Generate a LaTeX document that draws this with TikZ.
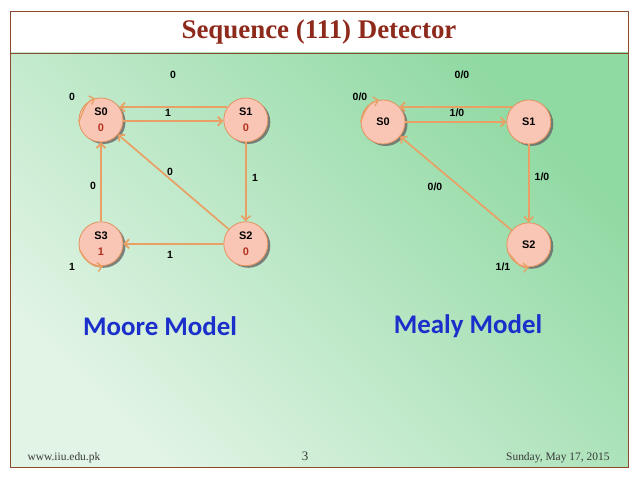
\documentclass[tikz,border=0pt]{standalone}
\usepackage{fontspec}
\setmainfont{Liberation Serif}
\setsansfont{Liberation Sans}
\newfontfamily\carlito{Carlito}
\usetikzlibrary{arrows.meta, positioning, shadows}
\definecolor{slidebrown}{HTML}{8B4A2E}
\definecolor{titlered}{HTML}{8E2A1C}
\definecolor{slidegreen}{HTML}{8FD9A2}
\definecolor{palegreen}{HTML}{E2F4E6}
\definecolor{statefill}{HTML}{F9C6B6}
\definecolor{stateline}{HTML}{E3925E}
\definecolor{edgeorange}{HTML}{E9A064}
\definecolor{outred}{HTML}{B5301E}
\definecolor{modelblue}{HTML}{1B2FCB}
\definecolor{footgray}{HTML}{3A3A3A}

\begin{document}
\begin{tikzpicture}[
    x=1bp, y=1bp,
    node distance=100bp,
    state/.style={circle, draw=stateline, fill=statefill, thick, minimum size=44bp, inner sep=0pt, align=center, font=\sffamily\bfseries\fontsize{11}{16}\selectfont, drop shadow={shadow xshift=2.5bp, shadow yshift=-2bp, fill=black!60, opacity=0.8}},
    edge/.style={-{Straight Barb[length=4.5bp, width=9bp]}, draw=edgeorange, line width=1.7bp},
    selfloop/.style={edge, line width=1.3bp},
    edgelabel/.style={font=\sffamily\bfseries\fontsize{10.5}{12}\selectfont},
    modeltitle/.style={font=\carlito\bfseries\fontsize{27}{32}\selectfont, text=modelblue},
    footer/.style={font=\fontsize{11.5}{13}\selectfont, text=footgray}
]
\useasboundingbox (0,0) rectangle (638,479);
\fill[white] (0,0) rectangle (638,479);
\shade[top color=slidegreen, bottom color=palegreen, shading angle=-45] (10,12) rectangle (628,426);
\draw[slidebrown] (10,12) rectangle (628,468);
\draw[slidebrown] (10,426) -- (628,426);

\node[font=\bfseries\fontsize{27}{32}\selectfont, text=titlered] (title) at (319,447) {Sequence (111) Detector};

% Moore model
\node[state] (ms0) at (101,359) {S0\\ \textcolor{outred}{0}};
\node[state, right=of ms0] (ms1) {S1\\ \textcolor{outred}{0}};
\node[state, below=79bp of ms0] (ms3) {S3\\ \textcolor{outred}{1}};
\node[state, right=of ms3] (ms2) {S2\\ \textcolor{outred}{0}};

\draw[edge] (ms1.145) -- (ms0.35);
\draw[edge] (ms0.-3) -- (ms1.183);
\draw[edge] (ms1) -- (ms2);
\draw[edge] (ms2) -- (ms0);
\draw[edge] (ms2) -- (ms3);
\draw[edge] (ms3) -- (ms0);
\draw[selfloop] (ms0.185) to[out=65,in=200] (ms0.105);
\draw[selfloop] (ms3.195) to[out=-60,in=190] (ms3.-85);

\node[edgelabel] (m10) at (173,404) {0};
\node[edgelabel] (m00) at (72,382) {0};
\node[edgelabel] (m01) at (168,366) {1};
\node[edgelabel] (m12) at (255,301) {1};
\node[edgelabel] (m20) at (170,307) {0};
\node[edgelabel] (m30) at (93,293) {0};
\node[edgelabel] (m23) at (170,224) {1};
\node[edgelabel] (m33) at (72,212) {1};

% Mealy model
\node[state] (ys0) at (383,357) {S0};
\node[state, right=101bp of ys0] (ys1) {S1};
\node[state, below=78bp of ys1] (ys2) {S2};

\draw[edge] (ys1.137) -- (ys0.43);
\draw[edge] (ys0) -- (ys1);
\draw[edge] (ys1) -- (ys2);
\draw[edge] (ys2) -- (ys0);
\draw[selfloop] (ys0.180) to[out=70,in=195] (ys0.100);
\draw[selfloop] (ys2.200) to[out=-45,in=185] (ys2.-90);

\node[edgelabel] (y10) at (462,404) {0/0};
\node[edgelabel] (y00) at (360,382) {0/0};
\node[edgelabel] (y01) at (457,366) {1/0};
\node[edgelabel] (y12) at (542,302) {1/0};
\node[edgelabel] (y20) at (435,292) {0/0};
\node[edgelabel] (y22) at (503,212) {1/1};

\node[modeltitle] (moore) at (160,153) {Moore Model};
\node[modeltitle] (mealy) at (468,153) {Mealy Model};

\node[footer, anchor=base west] (url) at (24,18) {www.iiu.edu.pk};
\node[footer, anchor=base, font=\fontsize{13}{15}\selectfont] (page) at (305,18) {3};
\node[footer, anchor=base east] (date) at (613,18) {Sunday, May 17, 2015};
\end{tikzpicture}
\end{document}
